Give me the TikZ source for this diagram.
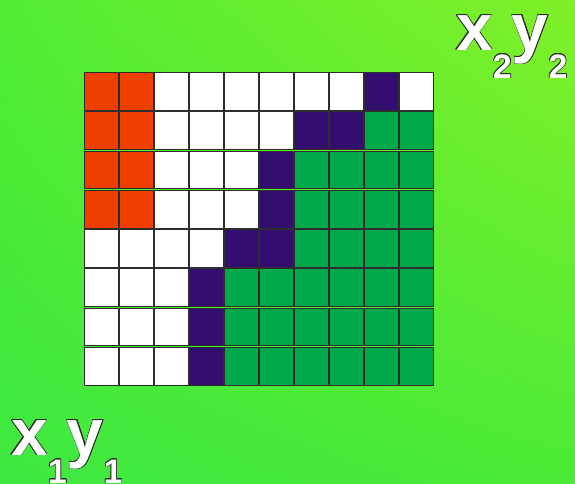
\documentclass[tikz,border=0pt]{standalone}
\usepackage{fontspec}
\setmainfont{Liberation Sans}
\usepackage{contour}
\usetikzlibrary{shadings}
\contourlength{0.7pt}
\definecolor{cO}{RGB}{238,63,0}
\definecolor{cP}{RGB}{51,14,110}
\definecolor{cG}{RGB}{0,169,74}
\definecolor{cW}{RGB}{255,255,255}
\definecolor{edge}{RGB}{45,45,45}
\definecolor{bgUL}{RGB}{82,236,52}
\definecolor{bgUR}{RGB}{128,240,40}
\definecolor{bgLL}{RGB}{62,232,64}
\definecolor{bgLR}{RGB}{76,234,56}
\newcommand{\bigtxt}{\fontsize{66}{66}\selectfont\bfseries}
\newcommand{\subtxt}[1]{\raisebox{-28pt}{\fontsize{34}{34}\selectfont\bfseries #1}}
\begin{document}
\begin{tikzpicture}[x=1pt,y=-1pt,
  cell/.style={draw=edge,line width=0.9pt},
  label/.style={anchor=base west,inner sep=0pt,text=white}]
\useasboundingbox (0,0) rectangle (575,483);
\shade[upper left=bgUL, upper right=bgUR, lower left=bgLL, lower right=bgLR]
  (0,0) rectangle (575,483);
\foreach \row [count=\r from 0] in {
  {O,O,W,W,W,W,W,W,P,W},
  {O,O,W,W,W,W,P,P,G,G},
  {O,O,W,W,W,P,G,G,G,G},
  {O,O,W,W,W,P,G,G,G,G},
  {W,W,W,W,P,P,G,G,G,G},
  {W,W,W,P,G,G,G,G,G,G},
  {W,W,W,P,G,G,G,G,G,G},
  {W,W,W,P,G,G,G,G,G,G}} {
  \foreach \c [count=\k from 0] in \row {
    \path[cell,fill=c\c] ({84+35*\k+0.5},{72+39.25*\r+0.5}) rectangle ({84+35*\k+34.3},{72+39.25*\r+38.4});
  }
}
\node[label] (p2) at (456,50) {\bigtxt\contour{edge}{x\subtxt{2}y\subtxt{2}}};
\node[label] (p1) at (11,455) {\bigtxt\contour{edge}{x\subtxt{1}y\subtxt{1}}};
\end{tikzpicture}
\end{document}
